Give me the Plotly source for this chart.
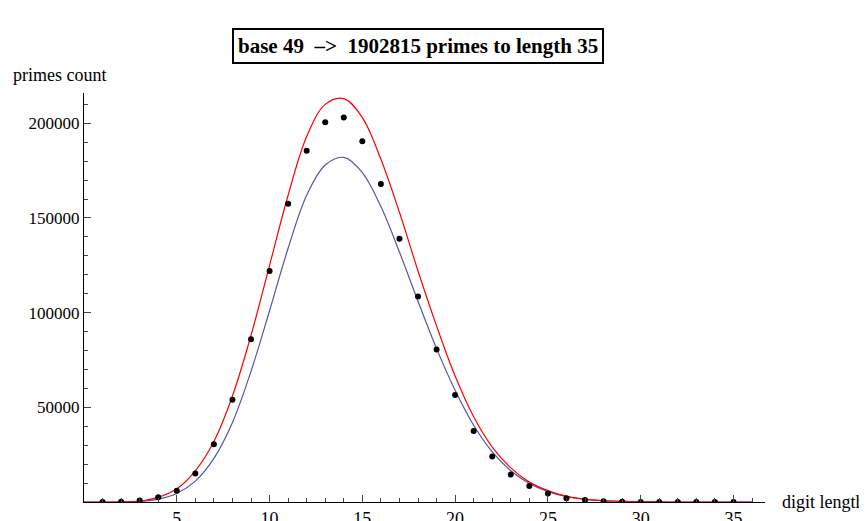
import plotly.graph_objects as go

lengths = list(range(1, 36))
counts = [0, 100, 800, 2500, 6000, 15000, 30500, 54000, 86000, 122000, 157500, 185500,
          200500, 203000, 190500, 168000, 139000, 108500, 80500, 56500, 37500, 24000,
          14500, 8500, 4500, 2000, 1000, 400, 100, 0, 0, 0, 0, 0, 0]

curve_x = list(range(0, 37))
red_est = [0, 0, 50, 500, 2500, 7000, 16500, 32000, 56000, 88000, 125000, 162000, 193000,
           210000, 213000, 203000, 181000, 153000, 122000, 93000, 66500, 45000, 29000,
           18000, 10500, 6000, 3000, 1500, 700, 300, 100, 30, 0, 0, 0, 0, 0]
blue_est = [0, 0, 20, 250, 1500, 4500, 11000, 23000, 42000, 69000, 101000, 134000, 162000,
            178000, 182000, 174000, 156000, 132000, 106000, 81000, 59000, 40500, 26500,
            16500, 9800, 5500, 2900, 1400, 650, 280, 100, 30, 0, 0, 0, 0, 0]

serif = "Liberation Serif"
fig = go.Figure()
fig.add_trace(go.Scatter(x=curve_x, y=blue_est, mode="lines", line=dict(color="#5555aa", width=1.2, shape="spline")))
fig.add_trace(go.Scatter(x=curve_x, y=red_est, mode="lines", line=dict(color="red", width=1.2, shape="spline")))
fig.add_trace(go.Scatter(x=lengths, y=counts, mode="markers", marker=dict(color="black", size=6)))

fig.update_layout(
    width=867, height=521, showlegend=False,
    plot_bgcolor="white", paper_bgcolor="white",
    margin=dict(l=76, r=110, t=85, b=27, autoexpand=False),
    font=dict(family=serif, size=17, color="black"),
    xaxis=dict(range=[0, 36.7], tickvals=[5, 10, 15, 20, 25, 30, 35], ticks="inside", ticklen=7,
               showgrid=False, zeroline=False, showline=True, linecolor="black", automargin=False,
               minor=dict(dtick=1, ticks="inside", ticklen=4), tickfont=dict(size=18)),
    yaxis=dict(range=[0, 216000], tickvals=[50000, 100000, 150000, 200000], ticks="inside", ticklen=7,
               showgrid=False, zeroline=False, showline=True, linecolor="black", automargin=False,
               minor=dict(dtick=10000, ticks="inside", ticklen=4), tickfont=dict(size=17),
               tickformat="d"),
    annotations=[
        dict(text="<b>base 49  –>  1902815 primes to length 35</b>", xref="paper", yref="paper",
             x=(410 - 76) / 681, y=1 + (85 - 20) / 409, showarrow=False, font=dict(size=21),
             bordercolor="black", borderwidth=2, borderpad=4, bgcolor="white"),
        dict(text="primes count", xref="paper", yref="paper", x=-76 / 681 + 0.004, y=1 + (85 - 55) / 409,
             xanchor="left", showarrow=False, font=dict(size=18)),
        dict(text="digit length", xref="paper", yref="paper", x=1 + (772 - 757) / 681, y=0,
             xanchor="left", yanchor="middle", showarrow=False, font=dict(size=18)),
    ],
)
fig.write_html("out.html")
